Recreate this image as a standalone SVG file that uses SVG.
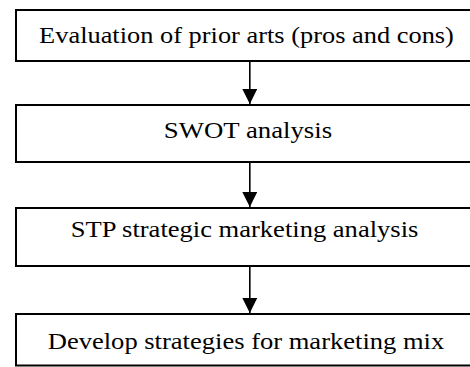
<svg xmlns="http://www.w3.org/2000/svg" width="470" height="367" viewBox="0 0 470 367">
  <style>
    .box { fill: #ffffff; stroke: #000000; stroke-width: 2; }
    .label { font-family: "Liberation Serif", "Times New Roman", serif; font-size: 22.7px; fill: #000000; text-anchor: middle; }
    .conn { stroke: #000000; stroke-width: 1.6; fill: none; marker-end: url(#arrow); }
  </style>
  <defs>
    <marker id="arrow" markerUnits="userSpaceOnUse" markerWidth="15" markerHeight="15" refX="15" refY="7.5" orient="auto">
      <path d="M0,0 L15,7.5 L0,15 Z" fill="#000000"/>
    </marker>
  </defs>
  <rect width="470" height="367" fill="#ffffff"/>

  <g id="connectors">
    <line class="conn" x1="249.8" y1="61" x2="249.8" y2="104"/>
    <line class="conn" x1="249.8" y1="162" x2="249.8" y2="207"/>
    <line class="conn" x1="249.8" y1="266" x2="249.8" y2="313"/>
  </g>

  <!-- labels are widened horizontally with scale(sx,1) -->
  <g id="evaluation">
    <rect class="box" x="16" y="10" width="470" height="51"/>
    <text class="label" transform="translate(246.5,42.7) scale(1.163,1)">Evaluation of prior arts (pros and cons)</text>
  </g>

  <g id="swot">
    <rect class="box" x="16" y="105" width="470" height="57"/>
    <text class="label" transform="translate(248,138.3) scale(1.18,1)">SWOT analysis</text>
  </g>

  <g id="stp">
    <rect class="box" x="16" y="208" width="470" height="58"/>
    <text class="label" transform="translate(244.5,236.7) scale(1.17,1)">STP strategic marketing analysis</text>
  </g>

  <g id="marketing-mix">
    <rect class="box" x="16" y="314" width="470" height="51.5" style="stroke-opacity:1"/>
    <text class="label" transform="translate(246,349) scale(1.17,1)">Develop strategies for marketing mix</text>
  </g>
</svg>
